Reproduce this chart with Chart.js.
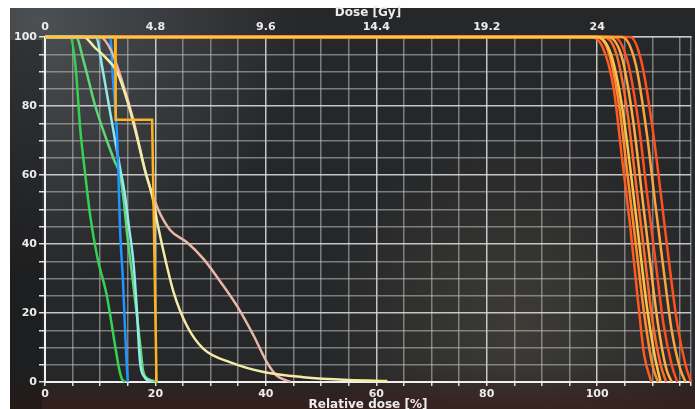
<!DOCTYPE html>
<html>
<head>
<meta charset="utf-8">
<script src="https://cdn.jsdelivr.net/npm/chart.js@4"></script>
<style>
  html, body { margin: 0; padding: 0; background: #fff; }
  #wrap { width: 695px; height: 409px; }
</style>
</head>
<body>
<div id="wrap"><canvas id="dvh"></canvas></div>
<script>
// relative dose [%] tick labels and the matching dose [Gy] labels on the top axis
var doseTicks = [0, 20, 40, 60, 80, 100]
var gyTicks = ['0', '4.8', '9.6', '14.4', '19.2', '24']
var volTicks = [0, 20, 40, 60, 80, 100]

// DVH curves, [relative dose %, volume %]
var stepOrange = [[0, 100], [12.7, 100], [12.8, 76], [19.4, 76], [20.2, 0]]
var green1 = [[0, 100], [4.5, 100], [5.5, 92], [6.4, 73], [7.3, 60], [8.2, 48], [9.5, 36], [11.2, 25], [12.7, 10.5], [13.4, 4], [13.9, 1], [14.5, 0]]
var green2 = [[0, 100], [5.6, 100], [7, 93], [9.1, 80], [11.2, 70], [12.6, 64], [13.6, 60], [14.3, 52], [14.8, 44], [15.7, 32], [16.6, 20], [17.3, 10], [17.8, 3], [18.8, 0.8], [20.5, 0]]
var cyan1 = [[0, 100], [9.2, 100], [10.5, 90], [11.6, 80], [12.7, 70], [13.6, 62], [14.5, 54], [15.2, 45], [16, 35], [16.6, 22], [17.2, 6], [18, 1.5], [19.5, 0]]
var blue1 = [[0, 100], [11.8, 100], [12.3, 88], [13, 73], [13.3, 60], [13.6, 44], [14.1, 30], [14.5, 15], [14.8, 5], [15, 0]]
var cream1 = [[0, 100], [7, 100], [9, 97], [11, 94], [13, 90], [15, 81], [16.5, 72], [18, 62], [19.4, 54], [20.5, 45], [21.5, 37.6], [23.3, 26], [25.7, 16.3], [28.7, 9.6], [33.6, 5.7], [39.6, 2.9], [46.8, 1.4], [55, 0.6], [62, 0.3]]
var rose1 = [[0, 100], [10, 100], [12, 96], [14, 87], [16, 76], [18.5, 59], [20.5, 50], [22.7, 44], [25.7, 40.5], [28.7, 35.7], [31.8, 29], [34.8, 22], [37.8, 13.4], [40.2, 5.7], [42, 1.8], [44.5, 0]]
var ptv1 = [[0, 100], [98.5, 100], [101, 97], [103, 85], [104.5, 65], [106, 45], [107.5, 22], [108.5, 8], [109.8, 0]]
var ptv2 = [[0, 100], [99.5, 100], [102, 96], [104, 80], [105.5, 60], [107, 40], [108.5, 20], [110, 5], [111, 0]]
var ptv3 = [[0, 100], [100, 100], [102.5, 95], [104.5, 80], [106, 62], [107.5, 42], [109, 22], [110.5, 7], [111.5, 0]]
var ptv4 = [[0, 100], [101, 100], [103.5, 95], [105.5, 78], [107, 58], [108.5, 38], [110, 18], [111.5, 5], [112.5, 0]]
var ptv5 = [[0, 100], [102, 100], [104.5, 94], [106.5, 76], [108, 56], [109.5, 36], [111, 17], [112.5, 4], [113.5, 0]]
var ptv6 = [[0, 100], [103, 100], [105.5, 93], [107.5, 75], [109, 55], [110.5, 36], [112, 17], [113.5, 5], [114.5, 0]]
var ptv7 = [[0, 100], [104.5, 100], [107, 92], [109, 72], [110.5, 52], [112, 33], [113.5, 15], [115, 4], [116, 0]]
var ptv8 = [[0, 100], [106, 100], [108, 93], [110, 74], [111.5, 55], [113, 35], [114.5, 17], [116, 5], [117, 0]]

var X_MAX = 117

function curve(points, color, smooth) {
	return {
		data: points.map(function(p) { return { x: p[0], y: p[1] } }),
		borderColor: color,
		borderWidth: 2.5,
		pointRadius: 0,
		fill: false,
		clip: 4,
		cubicInterpolationMode: smooth ? 'monotone' : 'default',
		tension: 0
	}
}

/* screen background behind the plot */
var screenBg = {
	id: 'screenBg',
	beforeDraw: function(chart) {
		var c = chart.ctx
		var w = chart.width, h = chart.height
		c.save()
		c.fillStyle = '#ffffff'
		c.fillRect(0, 0, w, h)
		c.fillStyle = '#262729'
		c.fillRect(10, 8, w - 10, h - 8)

		var g = c.createRadialGradient(40, 20, 0, 40, 20, 260)
		g.addColorStop(0, 'rgba(78,82,85,0.95)')
		g.addColorStop(1, 'rgba(78,82,85,0)')
		c.fillStyle = g
		c.fillRect(10, 8, w - 10, h - 8)

		g = c.createRadialGradient(520, 330, 0, 520, 330, 200)
		g.addColorStop(0, 'rgba(70,68,60,0.7)')
		g.addColorStop(1, 'rgba(70,68,60,0)')
		c.fillStyle = g
		c.fillRect(10, 8, w - 10, h - 8)

		g = c.createLinearGradient(0, 370, 0, h)
		g.addColorStop(0, 'rgba(60,25,20,0)')
		g.addColorStop(1, 'rgba(60,25,20,0.6)')
		c.fillStyle = g
		c.fillRect(10, 370, w - 10, h - 370)

		c.fillStyle = 'rgba(20,20,21,0.45)'
		c.fillRect(10, 40, 32, h - 40)
		c.restore()
	}
}

var gridColor = function(ctx) {
	if (!ctx.tick) return 'rgba(200,200,200,0.5)'
	return ctx.tick.value % 20 === 0 ? 'rgba(225,225,225,0.85)' : 'rgba(195,195,195,0.55)'
}

var tickFont = { family: 'DejaVu Sans', size: 11, weight: 'bold' }
var titleFont = { family: 'DejaVu Sans', size: 12, weight: 'bold' }

// dataset 0 ends up on top, so the yellow PTV curve carries the 100 % line
var ctx = document.getElementById('dvh').getContext('2d')
var chart = new Chart(ctx, {
	type: 'line',
	data: {
		datasets: [
			curve(ptv3, '#ffc445', true),
			curve(stepOrange, '#ffb21f', false),
			curve(cream1, '#f3eba6', true),
			curve(rose1, '#e9b6a8', true),
			curve(blue1, '#1f95ff', true),
			curve(cyan1, '#93e8ec', true),
			curve(green2, '#5fd775', true),
			curve(green1, '#35d152', true),
			curve(ptv5, '#ffac45', true),
			curve(ptv2, '#ff8a30', true),
			curve(ptv7, '#ffa23c', true),
			curve(ptv4, '#ff6a28', true),
			curve(ptv1, '#ff5a22', true),
			curve(ptv6, '#ff4e20', true),
			curve(ptv8, '#ff5020', true)
		]
	},
	options: {
		responsive: true,
		maintainAspectRatio: false,
		animation: false,
		layout: { padding: { left: 0, right: 4, top: 0, bottom: 0 } },
		plugins: {
			legend: { display: false },
			tooltip: { enabled: false }
		},
		scales: {
			x: {
				type: 'linear',
				position: 'bottom',
				min: 0,
				max: X_MAX,
				afterFit: function(s) { s.height = 27 },
				afterBuildTicks: function(s) {
					var t = []
					for (var v = 0; v < X_MAX; v += 5) t.push({ value: v })
					t.push({ value: X_MAX })
					s.ticks = t
				},
				ticks: {
					color: '#ececec',
					font: tickFont,
					padding: 2,
					maxRotation: 0,
					autoSkip: false,
					callback: function(v) { return doseTicks.indexOf(v) >= 0 ? String(v) : '' }
				},
				grid: { color: gridColor, lineWidth: 1.5, tickLength: 4, tickColor: '#dddddd' },
				border: { color: '#f0f0f0', width: 2 },
				title: { display: true, text: 'Relative dose [%]', color: '#ececec', font: titleFont, padding: { top: 0, bottom: -3 } }
			},
			x2: {
				type: 'linear',
				position: 'top',
				min: 0,
				max: X_MAX,
				afterFit: function(s) { s.height = 37 },
				afterBuildTicks: function(s) {
					s.ticks = doseTicks.map(function(v) { return { value: v } })
				},
				ticks: {
					color: '#ececec',
					font: tickFont,
					padding: 3,
					maxRotation: 0,
					autoSkip: false,
					callback: function(v) { return gyTicks[doseTicks.indexOf(v)] }
				},
				grid: { drawOnChartArea: false, drawTicks: false },
				border: { color: 'rgba(200,200,200,0.7)', width: 1.5 },
				title: { display: true, text: 'Dose [Gy]', color: '#ececec', font: titleFont, padding: { top: 6, bottom: 0 } }
			},
			y: {
				type: 'linear',
				min: 0,
				max: 100,
				afterFit: function(s) { s.width = 45 },
				afterBuildTicks: function(s) {
					var t = []
					for (var v = 0; v <= 100; v += 5) t.push({ value: v })
					s.ticks = t
				},
				ticks: {
					color: '#ececec',
					font: tickFont,
					padding: 2,
					autoSkip: false,
					callback: function(v) { return volTicks.indexOf(v) >= 0 ? String(v) : '' }
				},
				grid: { color: gridColor, lineWidth: 1.5, tickLength: 6, tickColor: '#dddddd' },
				border: { color: '#f0f0f0', width: 2 }
			}
		}
	},
	plugins: [screenBg]
})
</script>
</body>
</html>
